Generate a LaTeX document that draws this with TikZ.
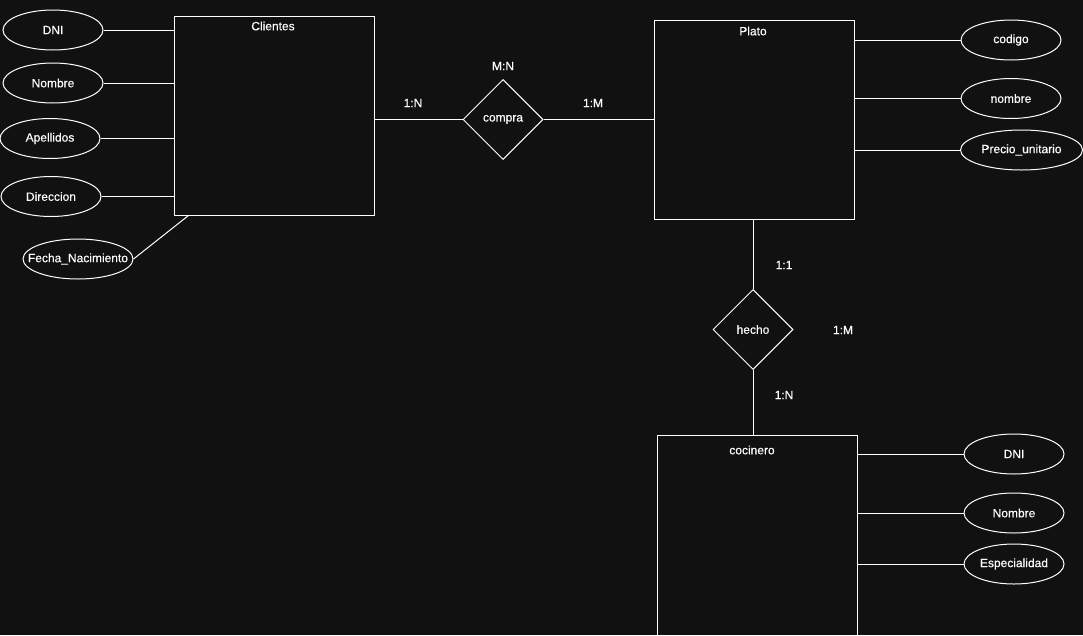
\documentclass[tikz,border=0pt]{standalone}
\usepackage{fontspec}
\setmainfont{Liberation Sans}
\newfontfamily\labelfont[FakeBold=0.35]{Liberation Sans}
\usetikzlibrary{shapes.geometric,calc}
\definecolor{canvas}{HTML}{111111}
\begin{document}
\begin{tikzpicture}[x=1pt,y=-1pt,
  every node/.style={text=white,font=\labelfont\fontsize{12}{14}\selectfont},
  entity/.style={draw=white,line width=1pt,rectangle,minimum width=200pt,minimum height=199pt,inner sep=0pt,anchor=north west},
  attr/.style={draw=white,line width=1pt,ellipse,minimum width=100pt,minimum height=40pt,inner sep=0pt},
  rel/.style={draw=white,line width=1pt,diamond,minimum width=80pt,minimum height=80pt,inner sep=0pt},
  card/.style={inner sep=0pt},
  link/.style={draw=white,line width=1pt}]
\fill[canvas] (0,0) rectangle (1083,635);
\useasboundingbox (0,0) rectangle (1083,635);

% entities
\node[entity] (clientes) at (173.5,15.5) {};
\node[card] (tclientes) at (273,26) {Clientes};
\node[entity] (plato) at (653.5,19.5) {};
\node[card] (tplato) at (753,31) {Plato};
\node[entity,minimum height=210pt] (cocinero) at (656.5,434.5) {};
\node[card] (tcocinero) at (752,450) {cocinero};

% relationships
\node[rel] (compra) at (503,119.5) {\raisebox{-2pt}{compra}};
\node[rel] (hecho) at (753,329.5) {\raisebox{-1pt}{hecho}};

% cardinalities
\node[card] (c1) at (413,103) {1:N};
\node[card] (c2) at (503,66) {M:N};
\node[card] (c3) at (593,103) {1:M};
\node[card] (c4) at (784,265) {1:1};
\node[card] (c5) at (843,330) {1:M};
\node[card] (c6) at (784,395) {1:N};

% Clientes attributes
\node[attr] (dni) at (53,30) {DNI};
\node[attr] (nombre) at (53,83) {Nombre};
\node[attr] (apellidos) at (50,138.5) {Apellidos};
\node[attr] (direccion) at (51,196.5) {Direccion};
\node[attr,minimum width=110pt,inner xsep=-14pt] (fecha) at (78,259) {Fecha\_Nacimiento};
\coordinate (fechaend) at ($(clientes.south west)+(15,0)$);

% Plato attributes
\node[attr] (codigo) at (1011,40) {codigo};
\node[attr] (pnombre) at (1011,98.5) {nombre};
\node[attr,minimum width=122pt,inner xsep=-10pt] (precio) at (1021.5,150) {Precio\_unitario};

% cocinero attributes
\node[attr] (cdni) at (1014,454) {DNI};
\node[attr] (cnombre) at (1014,513) {Nombre};
\node[attr] (espec) at (1014,564) {Especialidad};

% connectors
\draw[link] (dni.east) -- (dni.east -| clientes.west);
\draw[link] (nombre.east) -- (nombre.east -| clientes.west);
\draw[link] (apellidos.east) -- (apellidos.east -| clientes.west);
\draw[link] (direccion.east) -- (direccion.east -| clientes.west);
\draw[link] (fecha.east) -- (fechaend);

\draw[link] (clientes.east |- compra.west) -- (compra.west);
\draw[link] (compra.east) -- (compra.east -| plato.west);

\draw[link] (codigo.west) -- (codigo.west -| plato.east);
\draw[link] (pnombre.west) -- (pnombre.west -| plato.east);
\draw[link] (precio.west) -- (precio.west -| plato.east);

\draw[link] (hecho.north) -- (hecho.north |- plato.south);
\draw[link] (hecho.south) -- (hecho.south |- cocinero.north);

\draw[link] (cdni.west) -- (cdni.west -| cocinero.east);
\draw[link] (cnombre.west) -- (cnombre.west -| cocinero.east);
\draw[link] (espec.west) -- (espec.west -| cocinero.east);
\end{tikzpicture}
\end{document}
